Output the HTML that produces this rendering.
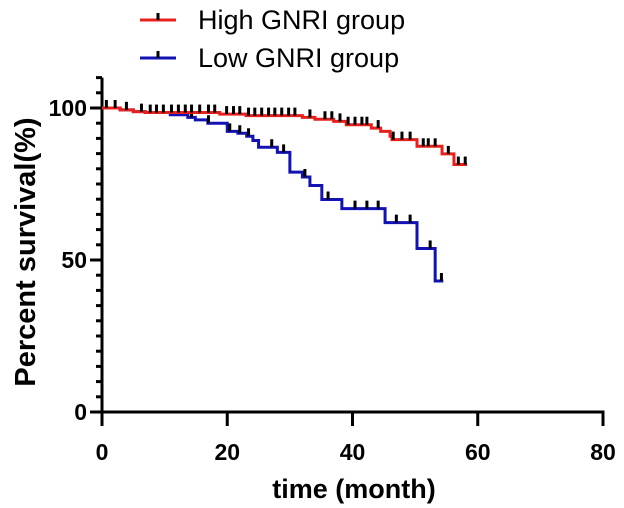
<!DOCTYPE html>
<html><head><meta charset="utf-8"><style>
body{margin:0;background:#fff;}
svg{display:block;font-family:"Liberation Sans",Arial,sans-serif;}
</style></head><body>
<svg id="chart" width="624" height="508">
<g id="axes"></g><g id="plot"></g>
<g>
 <g>
  <line x1="140" y1="20" x2="176" y2="20" stroke="#e8201c" stroke-width="3"/>
  <line x1="158" y1="13" x2="158" y2="20" stroke="#000" stroke-width="3"/>
  <text x="198" y="29" font-size="27" fill="#000">High GNRI group</text>
 </g>
 <g>
  <line x1="140" y1="58" x2="176" y2="58" stroke="#1212b5" stroke-width="3"/>
  <line x1="158" y1="51" x2="158" y2="58" stroke="#000" stroke-width="3"/>
  <text x="198" y="67" font-size="27" fill="#000">Low GNRI group</text>
 </g>
</g>
<text x="354" y="498" text-anchor="middle" font-size="27" font-weight="bold">time (month)</text>
<text transform="translate(35,252) rotate(-90)" text-anchor="middle" font-size="29" font-weight="bold">Percent survival(%)</text>
</svg>
<script>
const xTicks=[0,20,40,60,80];
const yTicks=[0,50,100];
const highTimes=[0,2.9,5,6.9,18.8,23,32,34,37,39,43,44.5,46,46.3,50.3,54.3,56.2,58.3];
const highSurv=[100,99.4,98.8,98.5,98,97.5,96.9,96.3,95.6,94.5,93.4,92.3,90.7,89.6,87.4,84.9,81.4,81.4];
const highCensor=[0.7,2.1,3.9,6.3,7.7,8.7,9.8,11.1,12.2,13.3,14.3,15.6,17,18,19.9,21,22,23.4,24.4,25.5,26.6,27.6,28.7,29.8,30.8,33.2,35.6,36.7,38,39.3,40.4,41.5,42.3,44.1,46.5,47.9,49.2,51.3,52.1,53.2,55.3,56.9,58];
const lowTimes=[0,2.9,5,6.9,10.9,13.7,14.9,16.9,20,21.7,23.1,24.1,25,28,30,32,33.2,35.1,38.3,45.2,50.3,53.2,54.5];
const lowSurv=[100,99.4,98.8,98.5,97.8,96.9,96.1,95,92.3,91.7,90.7,89.3,87.1,85.4,78.9,77.3,74.5,69.9,66.9,62.3,53.8,43.1,43.1];
const lowCensor=[14.3,17,20.4,22,23.4,27.1,29,32.4,36.1,40.4,42.3,44.1,47,49.2,52.4,54.2];
const NS='http://www.w3.org/2000/svg';
const X=t=>102+t*(501/80);
const Y=p=>412-p*3.04;
function mk(tag,attrs,parent){const e=document.createElementNS(NS,tag);for(const k in attrs)e.setAttribute(k,attrs[k]);parent.appendChild(e);return e;}
const axes=document.getElementById('axes'),plot=document.getElementById('plot');
let a=mk('line',{x1:X(0),y1:Y(0),x2:X(80)+1.5,y2:Y(0),stroke:'#000','stroke-width':3},axes);

a=mk('line',{x1:X(0),y1:Y(0)+1.5,x2:X(0),y2:Y(110),stroke:'#000','stroke-width':3},axes);

xTicks.forEach(t=>{
 let l=mk('line',{x1:X(t),y1:Y(0),x2:X(t),y2:Y(0)+14,stroke:'#000','stroke-width':3},axes);
 
 let tx=mk('text',{x:X(t),y:Y(0)+48,'text-anchor':'middle','font-size':23,'font-weight':'bold'},axes);tx.textContent=t;
 
});
for(let p=0;p<=110;p+=5){
 const major=yTicks.includes(p);
 let l=mk('line',{x1:X(0)-(major?12:6),y1:Y(p),x2:X(0),y2:Y(p),stroke:'#000','stroke-width':3},axes);
 
}
yTicks.forEach(p=>{
 let tx=mk('text',{x:87,y:Y(p)+8,'text-anchor':'end','font-size':23,'font-weight':'bold'},axes);tx.textContent=p;
 
});
function surv(times,s,t){let v=s[0];for(let i=0;i<times.length;i++){if(times[i]<=t)v=s[i];}return v;}
function series(times,s,cens,color,name){
 let d='M'+X(times[0])+','+Y(s[0]);
 for(let i=1;i<times.length;i++){d+=' H'+X(times[i])+' V'+Y(s[i]);}
 let p=mk('path',{d:d,fill:'none',stroke:color,'stroke-width':3},plot);
 
 cens.forEach(t=>{const v=surv(times,s,t);
  let c=mk('line',{x1:X(t),y1:Y(v)-8,x2:X(t),y2:Y(v),stroke:'#000','stroke-width':3},plot);
  });
}
series(lowTimes,lowSurv,lowCensor,'#1212b5','low-gnri');
series(highTimes,highSurv,highCensor,'#e8201c','high-gnri');
</script>
</body></html>
